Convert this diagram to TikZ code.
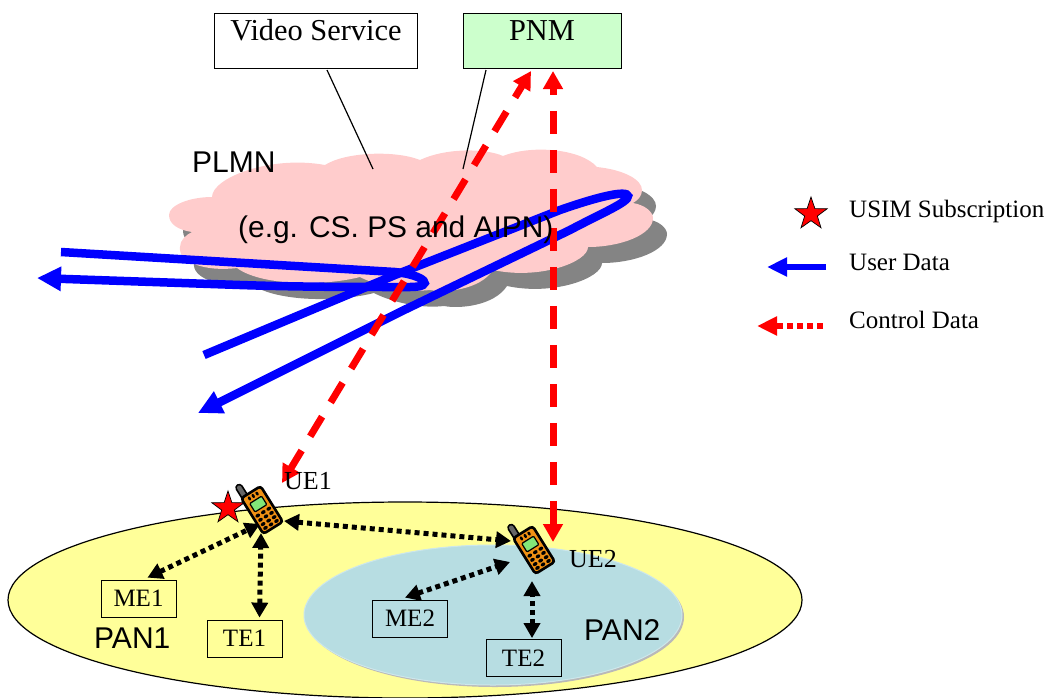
\documentclass[tikz,border=0pt]{standalone}
\usepackage{fontspec}
\setmainfont{Liberation Serif}
\newfontfamily\arialf{Liberation Sans}
\usetikzlibrary{arrows.meta,shapes.geometric}
\definecolor{cloudpink}{RGB}{255,204,204}
\definecolor{yellowpan}{RGB}{255,255,153}
\definecolor{tealpan}{RGB}{183,221,226}
\definecolor{pnmgreen}{RGB}{204,255,204}
\definecolor{phoneorange}{RGB}{240,145,20}
\definecolor{screengreen}{RGB}{130,230,120}
\definecolor{shadowgray}{RGB}{132,132,132}
\tikzset{
  x=1pt,y=-1pt,
  box/.style={draw=black,line width=0.8pt,minimum height=37pt,minimum width=75pt,inner sep=0pt,font=\fontsize{25}{25}\selectfont},
  topbox/.style={draw=black,line width=0.8pt,inner sep=0pt,anchor=north west,text depth=0pt,font=\fontsize{30}{30}\selectfont},
  leader/.style={draw=black,line width=1.2pt},
  bluearrow/.style={draw=blue,line width=8.5pt,-{Triangle[length=24pt,width=23pt,fill=blue]}},
  reddash/.style={draw=red,line width=7pt,{Triangle[length=18pt,width=19pt,fill=red]}-{Triangle[length=18pt,width=19pt,fill=red]}},
  blackdot/.style={draw=black,line width=5pt,dash pattern=on 5pt off 4pt,{Triangle[length=15pt,width=16pt,fill=black]}-{Triangle[length=15pt,width=16pt,fill=black]}},
  starmark/.style={star,star points=5,star point ratio=2.55,draw=black,line width=0.7pt,fill=red,minimum size=34pt,inner sep=0pt},
  legendtext/.style={anchor=base west,inner sep=0pt,font=\fontsize{25}{25}\selectfont},
  uetext/.style={anchor=base west,inner sep=0pt,font=\fontsize{26}{26}\selectfont},
  sanstext/.style={anchor=base west,inner sep=0pt,font=\arialf\fontsize{30}{30}\selectfont},
  phone/.pic={
    \draw[line width=8pt,black,line cap=round] (-7.5,-21) -- (-7.5,-31);
    \draw[line width=4.5pt,gray!80!black,line cap=round] (-7.5,-21) -- (-7.5,-31);
    \draw[fill=phoneorange,draw=black,line width=2.6pt,rounded corners=3pt] (-11.5,-21) rectangle (11.5,21);
    \draw[fill=screengreen,draw=black,line width=1.2pt,rounded corners=1pt] (-7,-12) rectangle (7,-2);
    \foreach \u in {-4.5,0,4.5} \fill[black] (\u,-16.5) ellipse (1.4pt and 2.2pt);
    \foreach \u in {-6.5,0,6.5} \foreach \v in {2.5,7.5,12.5,17}
      \fill[black] (\u,\v) ellipse (2.5pt and 1.8pt);
  }
}
\def\cloudpath{
  (212,197) .. controls (212,178) and (270,155) .. (325,165)
  .. controls (345,152) and (395,150) .. (420,160)
  .. controls (445,148) and (485,148) .. (503,156)
  .. controls (530,145) and (580,148) .. (597,167)
  .. controls (625,170) and (642,180) .. (642,190)
  .. controls (642,196) and (638,200) .. (633,203)
  .. controls (645,205) and (653,212) .. (653,218)
  .. controls (653,235) and (620,247) .. (588,247)
  .. controls (588,262) and (540,280) .. (493,270)
  .. controls (480,290) and (445,293) .. (430,290)
  .. controls (405,293) and (375,285) .. (360,277)
  .. controls (320,287) and (260,285) .. (237,268)
  .. controls (205,272) and (178,262) .. (180,247)
  .. controls (180,240) and (186,235) .. (192,232)
  .. controls (178,230) and (169,224) .. (169,215)
  .. controls (169,205) and (190,197) .. (212,197) -- cycle
}
\begin{document}
\begin{tikzpicture}
\useasboundingbox (0,0) rectangle (1049,697);
% PAN ellipses
\begin{scope}
\clip (0,0) rectangle (1049,697);
\draw[fill=yellowpan,draw=black,line width=1.2pt] (405,600) ellipse (397pt and 98pt);
\end{scope}
\fill[gray!55] (495,617) ellipse (189pt and 70pt);
\draw[fill=tealpan,draw=tealpan!70!white,line width=1pt] (493,615) ellipse (189pt and 70pt);
% Cloud
\fill[shadowgray,shift={(14,16)}] \cloudpath;
\fill[cloudpink] \cloudpath;
% Top boxes
\node[topbox,minimum width=203pt,minimum height=55pt,fill=white] (video) at (214,13) {};
\node[inner sep=0pt,anchor=base,font=\fontsize{30.4}{30}\selectfont] (videotext) at (316,40) {Video Service};
\node[topbox,minimum width=158pt,minimum height=55pt,fill=pnmgreen] (pnm) at (463,13) {};
\node[inner sep=0pt,anchor=base,font=\fontsize{30.4}{30}\selectfont] (pnmtext) at (542,40) {PNM};
% Leaders
\coordinate (cloudA) at (373,169);
\coordinate (cloudB) at (463,169);
\coordinate (videoOut) at (327,70);
\coordinate (pnmOut) at (486,70);
\draw[leader] (videoOut) -- (cloudA);
\draw[leader] (pnmOut) -- (cloudB);
% Phones anchors
\coordinate (ue1) at (262,510);
\coordinate (ue2) at (534,550);
% Blue paths (under the red dashes)
\coordinate (blueA0) at (61,252);
\coordinate (blueAtip) at (37,278);
\coordinate (blueB0) at (204,355);
\coordinate (blueBtip) at (198,413);
\draw[bluearrow] (blueA0) -- (395,272) .. controls (425,275) and (436,287) .. (410,287) .. controls (350,287) and (300,287) .. (240,285) -- (blueAtip);
\draw[bluearrow] (blueB0) -- (395,275) -- (560,210) .. controls (600,196) and (627,190) .. (628,196) .. controls (629,202) and (600,214) .. (570,230) -- (400,312) -- (blueBtip);
% Red dashed
\coordinate (redA1) at (282,483);
\coordinate (redA2) at (531,71);
\coordinate (redB1) at (553,542);
\coordinate (redB2) at (553,71);
\draw[reddash,dash pattern=on 23pt off 16.6pt,dash phase=9pt] (redA2) -- (redA1);
\draw[reddash,dash pattern=on 23pt off 16pt,dash phase=16pt] (redB2) -- (redB1);
% Texts over lines
\node[sanstext] (plmn) at (192,172) {PLMN};
\node[anchor=base west,inner sep=0pt,font=\arialf\fontsize{29.9}{30}\selectfont] (eg) at (238,237) {(e.g. CS. PS and AIPN)};
% Boxes
\node[box,fill=yellowpan] (me1) at (138.5,598.5) {ME1};
\node[box,fill=yellowpan] (te1) at (244.5,638.5) {TE1};
\node[box,fill=tealpan] (me2) at (410,618.5) {ME2};
\node[box,fill=tealpan] (te2) at (523.5,658) {TE2};
% Dotted links
\coordinate (u1a) at (260,524);
\coordinate (u1b) at (261,533);
\coordinate (u1c) at (284,521);
\coordinate (u2a) at (511,541);
\coordinate (u2b) at (510,562);
\coordinate (u2c) at (532,581);
\draw[blackdot] (me1.north) ++(9,-2) coordinate (me1p) (me1p) -- (u1a);
\draw[blackdot] (te1.north) ++(15,-2) coordinate (te1p) (te1p) -- (u1b);
\draw[blackdot] (u1c) -- (u2a);
\draw[blackdot] (me2.north) ++(-5,-2) coordinate (me2p) (me2p) -- (u2b);
\draw[blackdot] (te2.north) ++(8.5,-1) coordinate (te2p) (te2p) -- (u2c);
% Star and phones
\node[starmark] (star1) at (228,508) {};
\pic[rotate=32] at (ue1) {phone};
\pic[rotate=32] at (ue2) {phone};
% Labels
\node[uetext] (ue1t) at (284,489) {UE1};
\node[uetext] (ue2t) at (569,567) {UE2};
\node[sanstext] (pan1) at (94,648) {PAN1};
\node[sanstext] (pan2) at (584,640) {PAN2};
% Legend
\node[starmark] (star2) at (811,214) {};
\node[legendtext] (l1) at (849,217) {USIM Subscription};
\coordinate (leg1a) at (826,267);
\coordinate (leg1b) at (767,267);
\draw[draw=blue,line width=6pt,-{Triangle[length=20pt,width=18pt,fill=blue]}] (leg1a) -- (leg1b);
\node[legendtext] (l2) at (849,270) {User Data};
\coordinate (leg2a) at (823,326);
\coordinate (leg2b) at (757,326);
\draw[draw=red,line width=6pt,dash pattern=on 6pt off 4pt,-{Triangle[length=20pt,width=18pt,fill=red]}] (leg2a) -- (leg2b);
\node[legendtext] (l3) at (849,328) {Control Data};
\end{tikzpicture}
\end{document}
